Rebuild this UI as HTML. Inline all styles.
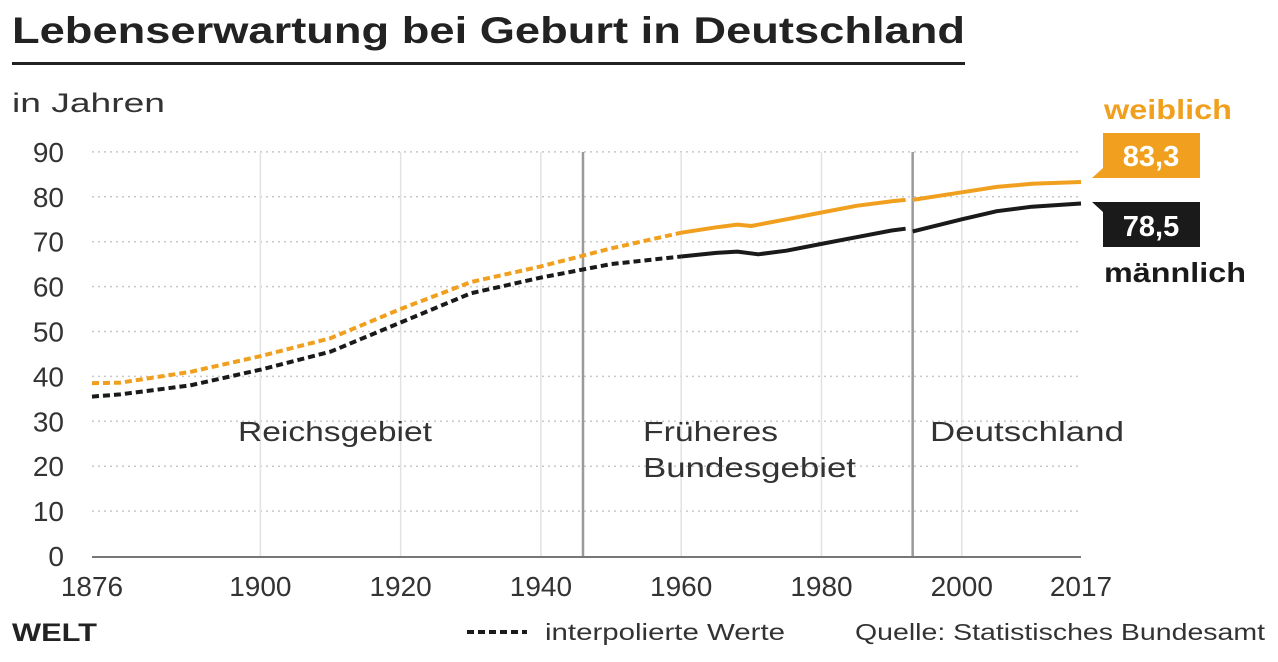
<!DOCTYPE html>
<html><head><meta charset="utf-8"><style>
body{margin:0;background:#fff;width:1278px;height:662px;overflow:hidden;font-family:"Liberation Sans",sans-serif}
</style></head><body>
<svg width="1278" height="662" style="position:absolute;left:0;top:0">
<text x="12" y="43" font-size="37" font-weight="bold" fill="#222" textLength="953" lengthAdjust="spacingAndGlyphs">Lebenserwartung bei Geburt in Deutschland</text>
<rect x="12" y="62" width="953" height="3" fill="#222"/>
<text x="12" y="112" font-size="27" fill="#333" textLength="153" lengthAdjust="spacingAndGlyphs">in Jahren</text>
<g id="grid"></g><g id="lines"></g>
<text x="238" y="441" font-size="28" fill="#333" textLength="194" lengthAdjust="spacingAndGlyphs">Reichsgebiet</text>
<text x="643" y="441" font-size="28" fill="#333" textLength="135" lengthAdjust="spacingAndGlyphs">Früheres</text>
<text x="643" y="477" font-size="28" fill="#333" textLength="213" lengthAdjust="spacingAndGlyphs">Bundesgebiet</text>
<text x="930" y="441" font-size="28" fill="#333" textLength="194" lengthAdjust="spacingAndGlyphs">Deutschland</text>
<text x="1104" y="119" font-size="28" font-weight="bold" fill="#f0a01e" textLength="128" lengthAdjust="spacingAndGlyphs">weiblich</text>
<path d="M1103,133 H1200 V178 H1092 L1103,168 Z" fill="#f0a01e"/>
<text x="1151" y="166" font-size="29" font-weight="bold" fill="#fff" text-anchor="middle">83,3</text>
<path d="M1092,202 H1200 V247 H1103 V212 Z" fill="#1a1a1a"/>
<text x="1151" y="236" font-size="29" font-weight="bold" fill="#fff" text-anchor="middle">78,5</text>
<text x="1104" y="282" font-size="28" font-weight="bold" fill="#1a1a1a" textLength="142" lengthAdjust="spacingAndGlyphs">männlich</text>
<text x="12" y="641" font-size="25" font-weight="900" fill="#222" textLength="85" lengthAdjust="spacingAndGlyphs">WELT</text>
<line x1="467" y1="632" x2="527" y2="632" stroke="#1a1a1a" stroke-width="4" stroke-dasharray="7,4"/>
<text x="545" y="640" font-size="23" fill="#333" textLength="240" lengthAdjust="spacingAndGlyphs">interpolierte Werte</text>
<text x="855" y="640" font-size="23" fill="#333" textLength="410" lengthAdjust="spacingAndGlyphs">Quelle: Statistisches Bundesamt</text>
</svg>
<script>
const yTicks=[0,10,20,30,40,50,60,70,80,90];
const xTicks=[1876,1900,1920,1940,1960,1980,2000,2017];
const vGrid=[1900,1920,1940,1960,1980,2000];
const separators=[1946,1993];
const femaleInterpYears=[1876,1880,1890,1900,1910,1920,1930,1940,1950,1960];
const femaleInterpVals=[38.5,38.6,41,44.5,48.5,55,61,64.5,68.5,72];
const femaleA_Years=[1960,1965,1968,1970,1975,1980,1985,1990,1992];
const femaleA_Vals=[72,73.2,73.8,73.5,75,76.5,78,79,79.3];
const femaleB_Years=[1993,2000,2005,2010,2017];
const femaleB_Vals=[79.3,81,82.2,82.9,83.3];
const maleInterpYears=[1876,1880,1890,1900,1910,1920,1930,1940,1950,1960];
const maleInterpVals=[35.5,36,38,41.5,45.5,52,58.5,62,65,66.7];
const maleA_Years=[1960,1965,1968,1971,1975,1980,1985,1990,1992];
const maleA_Vals=[66.7,67.5,67.8,67.2,68,69.5,71,72.5,72.9];
const maleB_Years=[1993,2000,2005,2010,2017];
const maleB_Vals=[72.3,75,76.8,77.8,78.5];
const NS="http://www.w3.org/2000/svg";
const x=v=>92+(v-1876)*(989/141);
const y=v=>556-v*4.49;
function mk(t,a,p){const e=document.createElementNS(NS,t);for(const k in a)e.setAttribute(k,a[k]);p.appendChild(e);return e;}
const g=document.getElementById('grid'),L=document.getElementById('lines');
yTicks.forEach(t=>{
 if(t>0){const l=mk('line',{x1:92,x2:1081,y1:y(t),y2:y(t),stroke:'#c8c8c8','stroke-width':1.5,'stroke-dasharray':'2,4'},g);
 
 }
 const tx=mk('text',{x:64,y:y(t)+10,'font-size':28,fill:'#333','text-anchor':'end'},g);tx.textContent=t;
 
 
});
vGrid.forEach(t=>{const l=mk('line',{x1:x(t),x2:x(t),y1:152,y2:556,stroke:'#e2e2e2','stroke-width':1.5},g);
 
 });
separators.forEach(t=>{const l=mk('line',{x1:x(t),x2:x(t),y1:152,y2:556,stroke:'#9a9a9a','stroke-width':2.5},g);
 
 });
const ax=mk('line',{x1:92,x2:1081,y1:557,y2:557,stroke:'#777','stroke-width':2},g);


xTicks.forEach(t=>{const tx=mk('text',{x:x(t),y:596,'font-size':28,fill:'#333','text-anchor':'middle'},g);tx.textContent=t;
 
 });
function line(ys,vs,col,dash,name){
 const d=ys.map((yr,i)=>(i?'L':'M')+x(yr).toFixed(1)+','+y(vs[i]).toFixed(1)).join(' ');
 const p=mk('path',{d:d,fill:'none',stroke:col,'stroke-width':4,'stroke-linejoin':'round'},L);
 if(dash)p.setAttribute('stroke-dasharray','7,4');
 
 
}
line(femaleInterpYears,femaleInterpVals,'#f0a01e',true,'female-interpolated-line');
line(maleInterpYears,maleInterpVals,'#1a1a1a',true,'male-interpolated-line');
line(femaleA_Years,femaleA_Vals,'#f0a01e',false,'female-line-west');
line(femaleB_Years,femaleB_Vals,'#f0a01e',false,'female-line-unified');
line(maleA_Years,maleA_Vals,'#1a1a1a',false,'male-line-west');
line(maleB_Years,maleB_Vals,'#1a1a1a',false,'male-line-unified');
</script>
</body></html>
